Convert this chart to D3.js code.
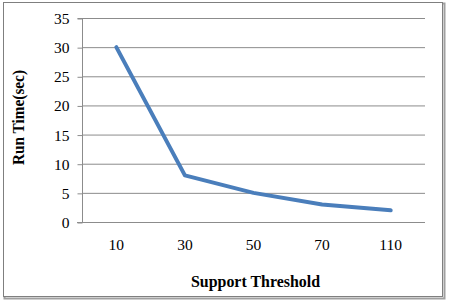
<!DOCTYPE html>
<html><head><meta charset="utf-8">
<script src="https://cdn.jsdelivr.net/npm/d3@7"></script>
<style>body{margin:0;background:#fff}svg{display:block}text{font-family:"Liberation Serif","Times New Roman",serif}</style>
</head><body>
<svg id="c" width="450" height="306"></svg>
<script>
const categories = ["10","30","50","70","110"];
const runTime = [30, 8, 5, 3, 2];
const yTicks = [0,5,10,15,20,25,30,35];

const svg = d3.select("#c");
// outer frame with slight shadow
svg.append("rect").attr("x",4.5).attr("y",3.5).attr("width",440).attr("height",295).attr("fill","none").attr("stroke","#a0a0a0").attr("stroke-width",2);
svg.append("rect").attr("x",3.5).attr("y",2.5).attr("width",439).attr("height",294).attr("fill","#fff").attr("stroke","#7f7f7f").attr("stroke-width",1);

const m = {l:82, r:425, t:18, b:222};
const x = d3.scaleBand().domain(categories).range([m.l, m.r]);
const y = d3.scaleLinear().domain([0,35]).range([m.b, m.t]);

const g = svg.append("g");
g.selectAll("line.grid").data(yTicks.filter(d=>d>0)).join("line")
  .attr("x1",m.l).attr("x2",m.r).attr("y1",d=>y(d)+0.5).attr("y2",d=>y(d)+0.5)
  .attr("stroke","#8c8c8c").attr("stroke-width",1);

const ya = svg.append("g").attr("transform",`translate(${m.l+0.5},0.5)`)
  .call(d3.axisLeft(y).tickValues(yTicks).tickSize(5).tickPadding(8));
ya.select(".domain").attr("stroke","#8c8c8c").attr("d",`M-5,${m.t}H0V${m.b}`);
ya.selectAll(".tick line").attr("stroke","#8c8c8c");
ya.selectAll("text").attr("font-size",15.5).attr("fill","#000").attr("font-family","Liberation Serif, serif");

const xa = svg.append("g").attr("transform",`translate(0,${m.b+0.5})`)
  .call(d3.axisBottom(x).tickSize(0).tickPadding(16));
xa.select(".domain").attr("stroke","#8c8c8c").attr("d",`M${m.l-5},0H${m.r}`);
xa.selectAll("text").attr("font-size",15.5).attr("fill","#000").attr("font-family","Liberation Serif, serif");

const line = d3.line().x((d,i)=>x(categories[i])+x.bandwidth()/2).y(d=>y(d));
svg.append("path").datum(runTime).attr("d",line).attr("fill","none")
  .attr("stroke","#4a7ebb").attr("stroke-width",4).attr("stroke-linejoin","round").attr("stroke-linecap","round");

svg.append("text").attr("x",255.5).attr("y",287).attr("text-anchor","middle")
  .attr("font-weight","bold").attr("font-size",17.5).attr("textLength",129).attr("lengthAdjust","spacingAndGlyphs").text("Support Threshold");
svg.append("text").attr("transform","translate(24,117.5) rotate(-90)").attr("text-anchor","middle")
  .attr("font-weight","bold").attr("font-size",16.5).attr("textLength",95).attr("lengthAdjust","spacingAndGlyphs").text("Run Time(sec)");
</script>
</body></html>
